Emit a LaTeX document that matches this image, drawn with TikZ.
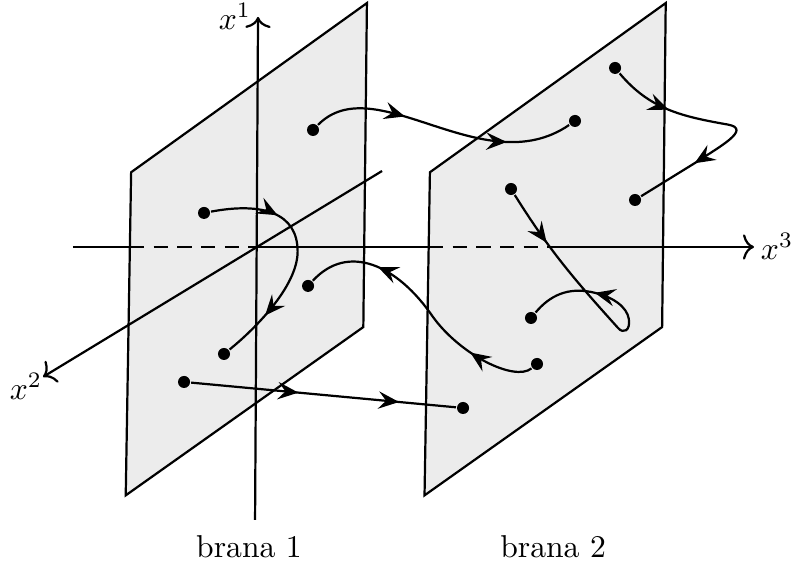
\documentclass[tikz,border=0pt]{standalone}
\usepackage{tikz}
\usetikzlibrary{arrows.meta,decorations.markings}

\tikzset{
  brane/.style={draw, fill=gray!15},
  axis/.style={-{Computer Modern Rightarrow[length=3.5pt,width=8pt]}},
  behind/.style={dash pattern=on 4.5pt off 3pt},
  dot/.style={circle, fill=black, inner sep=0pt, minimum size=3.8pt},
  traj/.style 2 args={postaction={decorate}, decoration={markings,
      mark=at position #1 with {\arrow{Stealth[length=6.5pt,width=5.5pt,inset=2.4pt]}},
      mark=at position #2 with {\arrow{Stealth[length=6.5pt,width=5.5pt,inset=2.4pt]}}}}
}

\begin{document}
\begin{tikzpicture}[line width=0.7pt]
  \useasboundingbox (-2.867,-3.533) rectangle (5.933,2.744);

  % Branes
  \foreach \s in {0,3.32}
    \draw[brane, xshift=\s cm] (-1.41,0.83) -- (1.21,2.71) -- (1.17,-0.89) -- (-1.47,-2.76) -- cycle;

  % Axes
  \coordinate (O1) at (0,0);
  \coordinate (O2) at (3.25,0);
  \coordinate (in1) at (-1.424,0);
  \coordinate (in2) at (1.898,0);
  \coordinate (x1a) at (-0.033,-3.033);
  \coordinate (x1b) at (0,2.556);
  \coordinate (x2a) at (1.378,0.844);
  \coordinate (x2b) at (-2.389,-1.444);
  \coordinate (x3a) at (-2.056,0);
  \coordinate (x3b) at (5.511,0);
  \draw[axis] (x1a) -- (x1b);
  \draw[axis] (x2a) -- (x2b);
  \draw (x3a) -- (in1);
  \draw[behind] (in1) -- (O1);
  \draw (O1) -- (in2);
  \draw[behind] (in2) -- (O2);
  \draw[axis] (O2) -- (x3b);

  % Labels
  \node (lx1) at (-0.256,2.561) {$x^1$};
  \node (lx2) at (-2.578,-1.55) {$x^2$};
  \node (lx3) at (5.767,0.006) {$x^3$};
  \node (lb1) at (-0.1,-3.333) {brana 1};
  \node (lb2) at (3.278,-3.333) {brana 2};

  % Strings ends
  \foreach \n/\x/\y in {a1/0.611/1.3, a2/3.522/1.4, b1/-0.6/0.378, b2/-0.378/-1.189,
                        c1/0.556/-0.433, c2/3.1/-1.3, d1/-0.822/-1.5, d2/2.278/-1.789,
                        e1/3.967/1.989, e2/4.189/0.522, f1/2.811/0.644, f2/3.033/-0.789}
    \node[dot] (\n) at (\x,\y) {};

  % Strings
  \draw[traj={0.35}{0.75}] (a1) .. controls (1.3,2.0) and (2.5,0.7) .. (a2);
  \draw[traj={0.29}{0.79}] (b1) .. controls (0.05,0.5) and (0.44,0.38) .. (0.44,-0.05)
    .. controls (0.44,-0.45) and (-0.068,-0.94) .. (b2);
  \draw[traj={0.25}{0.73}] (c2) .. controls (2.85,-1.5) and (2.25,-1.2) .. (1.944,-0.778)
    .. controls (1.55,-0.2) and (1.0,0.05) .. (c1);
  \draw[traj={0.405}{0.785}] (d1) -- (d2);
  \draw[traj={0.245}{0.75}] (e1) to[out=-50,in=170] (5.22,1.36)
    .. controls (5.5,1.31) and (5.1,1.1) .. (4.91,0.967) -- (e2);
  \draw[traj={0.19}{0.78}] (f1) to[out=-58,in=132] (4.0,-0.9)
    .. controls (4.06,-0.97) and (4.14,-0.93) .. (4.12,-0.8)
    .. controls (4.1,-0.67) and (3.95,-0.55) .. (3.7,-0.5) to[out=169,in=50] (f2);
\end{tikzpicture}
\end{document}
